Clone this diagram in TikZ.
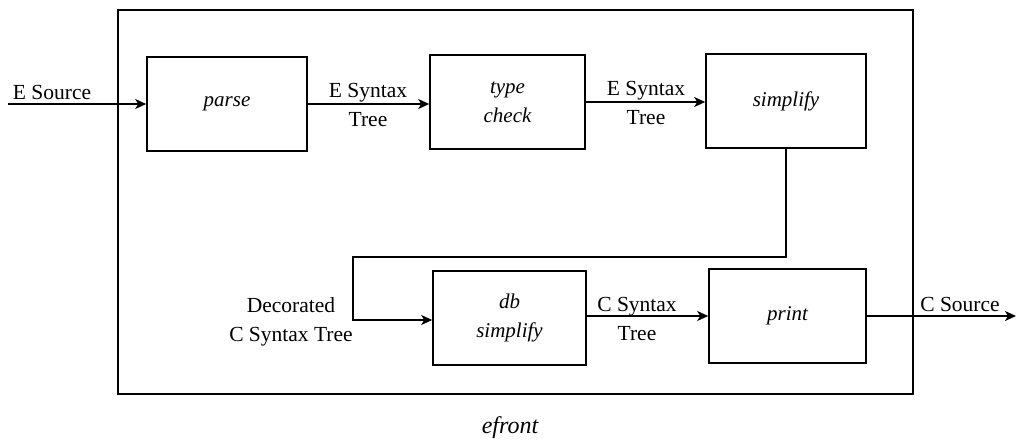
\documentclass[tikz,border=0pt]{standalone}
\usepackage{fontspec}
\setmainfont{Liberation Serif}
\usetikzlibrary{arrows.meta}
\begin{document}
\begin{tikzpicture}[x=1pt,y=-1pt,
  line width=1.6pt,
  stage/.style={draw,rectangle,minimum width=157pt,minimum height=94pt,
    inner sep=0pt,align=center,font=\fontsize{21}{29}\selectfont\itshape},
  flow/.style={-{Stealth[length=11pt,width=10pt,inset=3pt]}},
  lbl/.style={align=center,inner sep=0pt,font=\fontsize{21.5}{29}\selectfont}]
\useasboundingbox (0,0) rectangle (1018,447);
% enclosing frame of the front end
\node[draw,rectangle,minimum width=795pt,minimum height=384pt,inner sep=0pt] (frame) at (515.5,202) {};
\node[font=\fontsize{24}{28}\selectfont\itshape] (title) at (510,428) {efront};
% processing stages
\node[stage,minimum width=160pt] (parse) at (227,104) {parse};
\node[stage,minimum width=155pt] (check) at (507.5,102) {type\\check};
\node[stage,minimum width=160pt] (simp) at (786,101) {simplify};
\node[stage,minimum width=153pt] (dbsimp) at (509.5,318) {db\\simplify};
\node[stage] (print) at (787.5,316) {print};
% free ends of the input and output lines
\coordinate (src) at (8,104);
\coordinate (dst) at (1016,316);
% data flow
\draw[flow] (src) -- (parse.west);
\draw[flow] (parse.east) -- (parse.east -| check.west);
\draw[flow] (check.east) -- (check.east -| simp.west);
\draw[flow] (simp.south) -- ++(0,108) -| (353,320) -- (dbsimp.west |- 0,320);
\draw[flow] (dbsimp.east |- 0,316) -- (print.west);
\draw[flow] (print.east) -- (dst);
% data labels
\node[lbl] (l1) at (52,92) {E Source};
\node[lbl] (l2) at (368,105) {E Syntax\\Tree};
\node[lbl] (l3) at (646,103) {E Syntax\\Tree};
\node[lbl] (l4) at (291,322) {Decorated\\C Syntax Tree};
\node[lbl] (l5) at (637,319) {C Syntax\\Tree};
\node[lbl] (l6) at (960,304) {C Source};
\end{tikzpicture}
\end{document}
